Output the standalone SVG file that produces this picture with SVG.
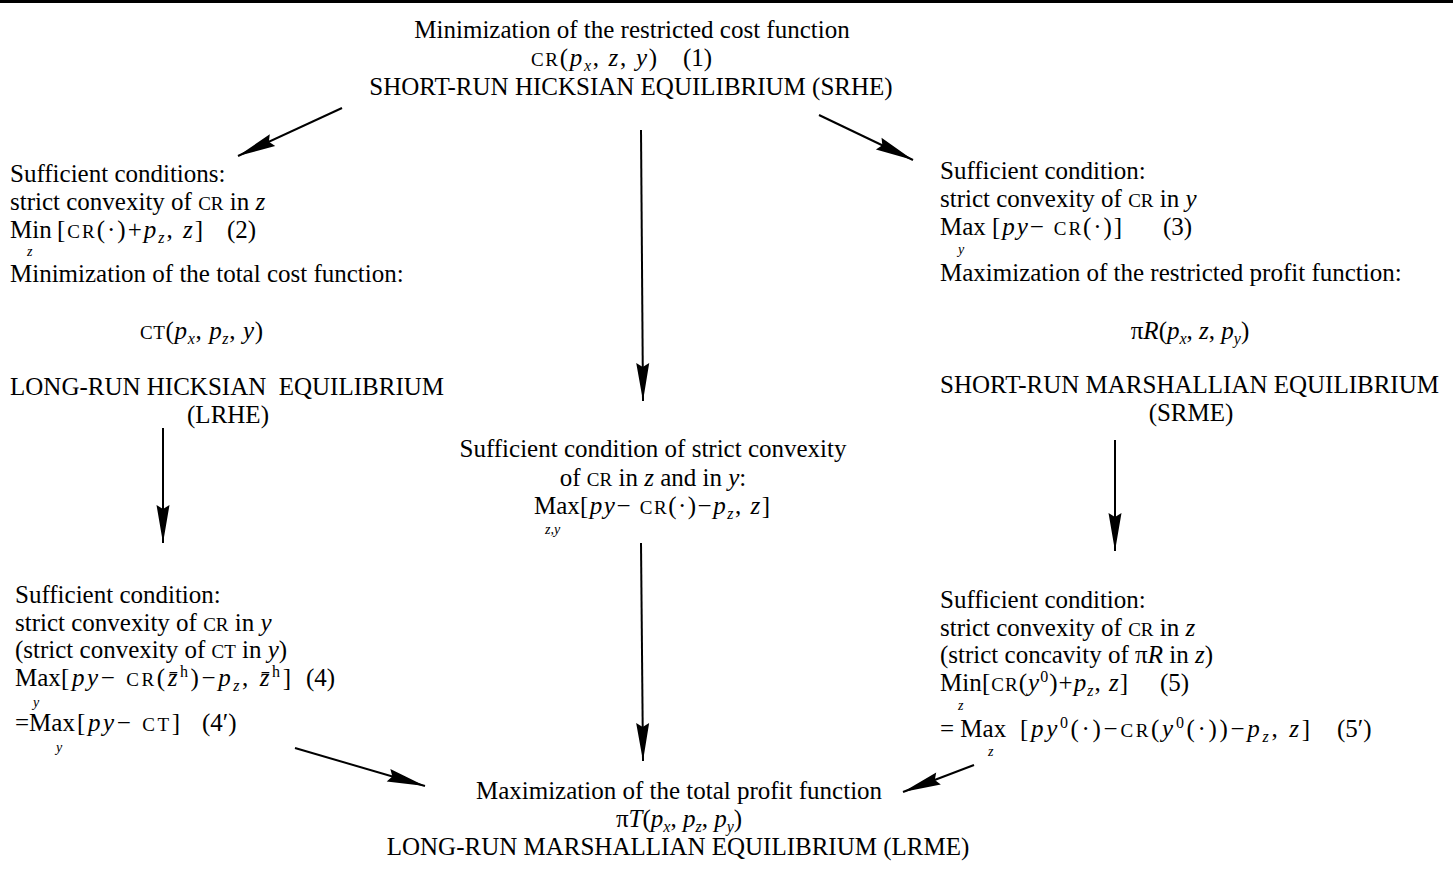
<svg xmlns="http://www.w3.org/2000/svg" width="1453" height="872" viewBox="0 0 1453 872">
<style>
text { font-family: "Liberation Serif", "Times New Roman", serif; font-size: 25px; fill: #000; white-space: pre; }
.i { font-style: italic; }
.sc { font-size: 19px; }
.sub { font-size: 16px; font-style: italic; }
.sup { font-size: 16px; }
.lim { font-size: 14px; font-style: italic; }
.c { text-anchor: middle; }
.conn line { stroke: #000; stroke-width: 2; marker-end: url(#dart); }
</style>
<defs>
<marker id="dart" viewBox="-40 -8 42 16" refX="0" refY="0" markerWidth="42" markerHeight="16" markerUnits="userSpaceOnUse" orient="auto">
<path d="M0,0 L-38,-6.5 L-34,0 L-38,6.5 Z" fill="#000"/>
</marker>
</defs>
<rect x="0" y="0" width="1453" height="3" fill="#000"/>

<g id="srhe">
<text x="632" y="38" class="c">Minimization of the restricted cost function</text>
<text x="531" y="66" textLength="126" lengthAdjust="spacing"><tspan class="sc">CR</tspan>(<tspan class="i">p</tspan><tspan class="sub" dy="5">x</tspan><tspan dy="-5">, </tspan><tspan class="i">z</tspan>, <tspan class="i">y</tspan>)</text>
<text x="683" y="66">(1)</text>
<text x="631" y="95" class="c">SHORT-RUN HICKSIAN EQUILIBRIUM (SRHE)</text>
</g>

<g id="lrhe">
<text x="10" y="182">Sufficient conditions:</text>
<text x="10" y="210">strict convexity of <tspan class="sc">CR</tspan> in <tspan class="i">z</tspan></text>
<text x="10" y="238">Min</text>
<text x="57" y="238" textLength="146" lengthAdjust="spacing">[<tspan class="sc">CR</tspan>(·)+<tspan class="i">p</tspan><tspan class="sub" dy="5">z</tspan><tspan dy="-5">, </tspan><tspan class="i">z</tspan>]</text>
<text x="227" y="238">(2)</text>
<text x="27" y="256" class="lim">z</text>
<text x="10" y="282">Minimization of the total cost function:</text>
<text x="140" y="339" textLength="123" lengthAdjust="spacing"><tspan class="sc">CT</tspan>(<tspan class="i">p</tspan><tspan class="sub" dy="5">x</tspan><tspan dy="-5">, </tspan><tspan class="i">p</tspan><tspan class="sub" dy="5">z</tspan><tspan dy="-5">, </tspan><tspan class="i">y</tspan>)</text>
<text x="10" y="395">LONG-RUN HICKSIAN  EQUILIBRIUM</text>
<text x="228" y="423" class="c">(LRHE)</text>
</g>

<g id="srme">
<text x="940" y="179">Sufficient condition:</text>
<text x="940" y="207">strict convexity of <tspan class="sc">CR</tspan> in <tspan class="i">y</tspan></text>
<text x="940" y="235">Max</text>
<text x="992" y="235" textLength="130" lengthAdjust="spacing">[<tspan class="i">py</tspan>− <tspan class="sc">CR</tspan>(·)]</text>
<text x="1163" y="235">(3)</text>
<text x="958" y="254" class="lim">y</text>
<text x="940" y="281">Maximization of the restricted profit function:</text>
<text x="1190" y="339" class="c">π<tspan class="i">R</tspan>(<tspan class="i">p</tspan><tspan class="sub" dy="5">x</tspan><tspan dy="-5">, </tspan><tspan class="i">z</tspan>, <tspan class="i">p</tspan><tspan class="sub" dy="5">y</tspan><tspan dy="-5">)</tspan></text>
<text x="940" y="393">SHORT-RUN MARSHALLIAN EQUILIBRIUM</text>
<text x="1191" y="421" class="c">(SRME)</text>
</g>

<g id="joint">
<text x="653" y="457" class="c">Sufficient condition of strict convexity</text>
<text x="653" y="486" class="c">of <tspan class="sc">CR</tspan> in <tspan class="i">z</tspan> and in <tspan class="i">y</tspan>:</text>
<text x="534" y="514">Max</text>
<text x="580" y="514" textLength="190" lengthAdjust="spacing">[<tspan class="i">py</tspan>− <tspan class="sc">CR</tspan>(·)−<tspan class="i">p</tspan><tspan class="sub" dy="5">z</tspan><tspan dy="-5">, </tspan><tspan class="i">z</tspan>]</text>
<text x="545" y="534" class="lim">z,y</text>
</g>

<g id="lrhe-to-lrme">
<text x="15" y="603">Sufficient condition:</text>
<text x="15" y="631">strict convexity of <tspan class="sc">CR</tspan> in <tspan class="i">y</tspan></text>
<text x="15" y="658">(strict convexity of <tspan class="sc">CT</tspan> in <tspan class="i">y</tspan>)</text>
<text x="15" y="686">Max</text>
<text x="61" y="686" textLength="230" lengthAdjust="spacing">[<tspan class="i">py</tspan>− <tspan class="sc">CR</tspan>(<tspan class="i">z̄</tspan><tspan class="sup" dy="-9">h</tspan><tspan dy="9">)−</tspan><tspan class="i">p</tspan><tspan class="sub" dy="5">z</tspan><tspan dy="-5">, </tspan><tspan class="i">z̄</tspan><tspan class="sup" dy="-9">h</tspan><tspan dy="9">]</tspan></text>
<text x="306" y="686">(4)</text>
<text x="33" y="707" class="lim">y</text>
<text x="15" y="731">=Max</text>
<text x="77" y="731" textLength="103" lengthAdjust="spacing">[<tspan class="i">py</tspan>− <tspan class="sc">CT</tspan>]</text>
<text x="202" y="731">(4′)</text>
<text x="56" y="752" class="lim">y</text>
</g>

<g id="srme-to-lrme">
<text x="940" y="608">Sufficient condition:</text>
<text x="940" y="636">strict convexity of <tspan class="sc">CR</tspan> in <tspan class="i">z</tspan></text>
<text x="940" y="663">(strict concavity of π<tspan class="i">R</tspan> in <tspan class="i">z</tspan>)</text>
<text x="940" y="691">Min</text>
<text x="982" y="691" textLength="146" lengthAdjust="spacing">[<tspan class="sc">CR</tspan>(<tspan class="i">y</tspan><tspan class="sup" dy="-9">0</tspan><tspan dy="9">)+</tspan><tspan class="i">p</tspan><tspan class="sub" dy="5">z</tspan><tspan dy="-5">, </tspan><tspan class="i">z</tspan>]</text>
<text x="1160" y="691">(5)</text>
<text x="958" y="710" class="lim">z</text>
<text x="940" y="737">= Max</text>
<text x="1020" y="737" textLength="290" lengthAdjust="spacing">[<tspan class="i">py</tspan><tspan class="sup" dy="-9">0</tspan><tspan dy="9">(·)−</tspan><tspan class="sc">CR</tspan>(<tspan class="i">y</tspan><tspan class="sup" dy="-9">0</tspan><tspan dy="9">(·))−</tspan><tspan class="i">p</tspan><tspan class="sub" dy="5">z</tspan><tspan dy="-5">, </tspan><tspan class="i">z</tspan>]</text>
<text x="1337" y="737">(5′)</text>
<text x="988" y="756" class="lim">z</text>
</g>

<g id="lrme">
<text x="679" y="799" class="c">Maximization of the total profit function</text>
<text x="679" y="827" class="c">π<tspan class="i">T</tspan>(<tspan class="i">p</tspan><tspan class="sub" dy="5">x</tspan><tspan dy="-5">, </tspan><tspan class="i">p</tspan><tspan class="sub" dy="5">z</tspan><tspan dy="-5">, </tspan><tspan class="i">p</tspan><tspan class="sub" dy="5">y</tspan><tspan dy="-5">)</tspan></text>
<text x="678" y="855" class="c">LONG-RUN MARSHALLIAN EQUILIBRIUM (LRME)</text>
</g>

<g id="connectors" class="conn">
<line x1="342" y1="108" x2="238" y2="156"/>
<line x1="819" y1="115" x2="913" y2="160"/>
<line x1="641" y1="130" x2="643" y2="401"/>
<line x1="163" y1="428" x2="163" y2="543"/>
<line x1="641" y1="543" x2="643" y2="761"/>
<line x1="1115" y1="440" x2="1115" y2="551"/>
<line x1="295" y1="748" x2="425" y2="786"/>
<line x1="974" y1="765" x2="903" y2="792"/>
</g>
</svg>
